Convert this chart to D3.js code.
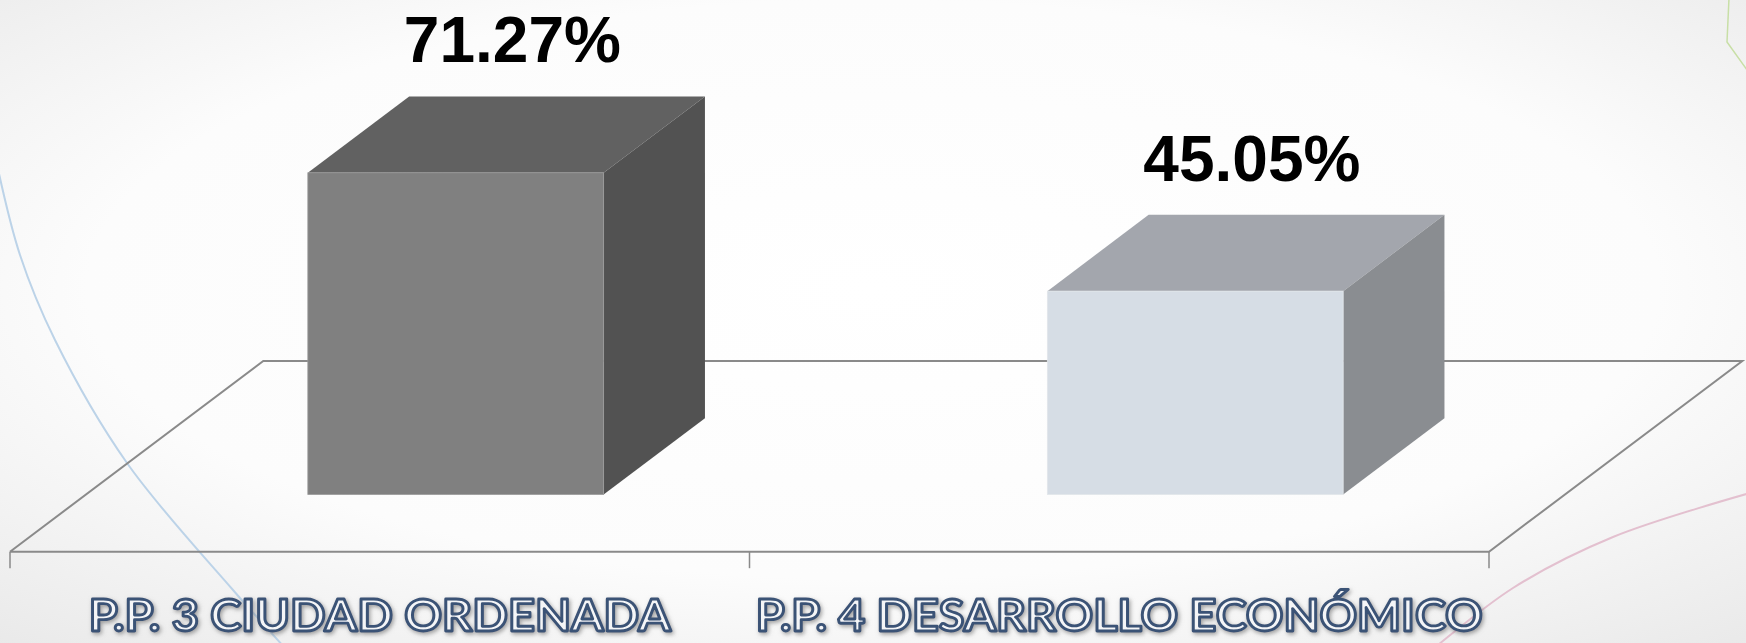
<!DOCTYPE html>
<html>
<head>
<meta charset="utf-8">
<script src="https://cdn.jsdelivr.net/npm/d3@7"></script>
<style>
  html, body { margin: 0; padding: 0; background: #fff; }
  svg { display: block; }
</style>
</head>
<body>
<svg id="chart" width="1746" height="643"></svg>
<script>
// ---- data ----
const categories = ["P.P. 3 CIUDAD ORDENADA", "P.P. 4 DESARROLLO ECONÓMICO"];
const values = [71.27, 45.05];
const valueLabels = ["71.27%", "45.05%"];

// ---- layout ----
const W = 1746, H = 643;
const svg = d3.select("#chart");
const defs = svg.append("defs");

// background
const bg = defs.append("radialGradient").attr("id", "bg")
  .attr("cx", "50%").attr("cy", "45%").attr("r", "75%");
bg.append("stop").attr("offset", "0%").attr("stop-color", "#ffffff");
bg.append("stop").attr("offset", "60%").attr("stop-color", "#fcfcfc");
bg.append("stop").attr("offset", "100%").attr("stop-color", "#e9e9e9");
svg.append("rect").attr("width", W).attr("height", H).attr("fill", "url(#bg)");

const shadow = defs.append("filter").attr("id", "glow")
  .attr("x", "-5%").attr("y", "-20%").attr("width", "110%").attr("height", "150%");
shadow.append("feDropShadow").attr("dx", 1.5).attr("dy", 2).attr("stdDeviation", 2)
  .attr("flood-color", "#7a7a7a").attr("flood-opacity", 0.7);

// decorative slide curves
const deco = svg.append("g").attr("fill", "none");
const curve = d3.line().curve(d3.curveCatmullRom);
deco.append("path")
  .attr("d", curve([[-4, 160], [20, 255], [55, 340], [127, 463], [233, 590], [285, 648]]))
  .attr("stroke", "#bcd3e8").attr("stroke-width", 2);
deco.append("path")
  .attr("d", curve([[1420, 660], [1513, 588], [1613, 537], [1750, 493]]))
  .attr("stroke", "#e3c0cf").attr("stroke-width", 2);
deco.append("path")
  .attr("d", d3.line()([[1729, -2], [1727, 42], [1750, 74]]))
  .attr("stroke", "#c8dfa6").attr("stroke-width", 1.5);

// scales
const x = d3.scaleBand().domain(categories).range([10, 1489])
  .paddingInner(0.6).paddingOuter(0.3);
const y = d3.scaleLinear().domain([0, 80]).range([551.7, 551.7 - 80 * 4.514]);
// depth projection (oblique)
const depthDX = 253.3, depthDY = -190.7;
const d0 = 0.3, d1 = 0.7;   // bar occupies middle 40% of floor depth

// floor
const floorG = svg.append("g").attr("stroke", "#8a8a8a").attr("stroke-width", 2).attr("fill", "none");
const [rx0, rx1] = x.range();
const fy = y(0);
floorG.append("path").attr("d", d3.line()([
  [rx0, fy], [rx0 + depthDX, fy + depthDY], [rx1 + depthDX, fy + depthDY], [rx1, fy], [rx0, fy]
]));
// ticks at category boundaries
const boundaries = [rx0, (x(categories[0]) + x.bandwidth() + x(categories[1])) / 2, rx1];
floorG.selectAll("line.tick").data(boundaries).join("line")
  .attr("x1", d => d).attr("x2", d => d)
  .attr("y1", fy).attr("y2", fy + 16.5)
  .attr("stroke-width", 1.5);

// bars
const palettes = [
  { front: "#808080", top: "#616161", side: "#525252", edge: "#9a9a9a" },
  { front: "#d6dde5", top: "#a3a6ad", side: "#8a8d91", edge: "#e2e6ea" }
];
const bars = svg.append("g");
categories.forEach((c, i) => {
  const v = values[i];
  const xl = x(c) + depthDX * d0, xr = xl + x.bandwidth();
  const yb = y(0) + depthDY * d0, yt = y(v) + depthDY * d0;
  const ddx = depthDX * (d1 - d0), ddy = depthDY * (d1 - d0);
  const p = palettes[i];
  const g = bars.append("g");
  // top face
  g.append("path").attr("d", d3.line()([[xl, yt], [xl + ddx, yt + ddy], [xr + ddx, yt + ddy], [xr, yt]]) + "Z")
    .attr("fill", p.top);
  // side face
  g.append("path").attr("d", d3.line()([[xr, yt], [xr + ddx, yt + ddy], [xr + ddx, yb + ddy], [xr, yb]]) + "Z")
    .attr("fill", p.side);
  // front face
  g.append("rect").attr("x", xl).attr("y", yt).attr("width", xr - xl).attr("height", yb - yt)
    .attr("fill", p.front).attr("stroke", p.edge).attr("stroke-width", 0.8);

  // value label centered over top face
  svg.append("text")
    .attr("x", xl + x.bandwidth() / 2 + ddx / 2 + 6)
    .attr("y", y(v) + depthDY * d1 - 34)
    .attr("text-anchor", "middle")
    .attr("font-family", "'Liberation Sans', Arial, sans-serif")
    .attr("font-weight", "bold")
    .attr("font-size", 64)
    .attr("fill", "#000")
    .text(valueLabels[i]);
});

// category labels (outlined)
const catG = svg.append("g");
const targetWidths = [582, 727];
categories.forEach((c, i) => {
  const t = catG.append("text")
    .attr("x", x(c) + x.bandwidth() / 2)
    .attr("y", 631)
    .attr("text-anchor", "middle")
    .attr("font-family", "Lato, 'Open Sans', sans-serif")
    .attr("font-weight", "bold")
    .attr("font-size", 44)
    .attr("fill", "#f4f5f7")
    .attr("stroke", "#3a5276")
    .attr("stroke-width", 2.8)
    .attr("stroke-linejoin", "round")
    .attr("filter", "url(#glow)")
    .text(c);
  t.attr("textLength", targetWidths[i]).attr("lengthAdjust", "spacingAndGlyphs");
});
</script>
</body>
</html>
